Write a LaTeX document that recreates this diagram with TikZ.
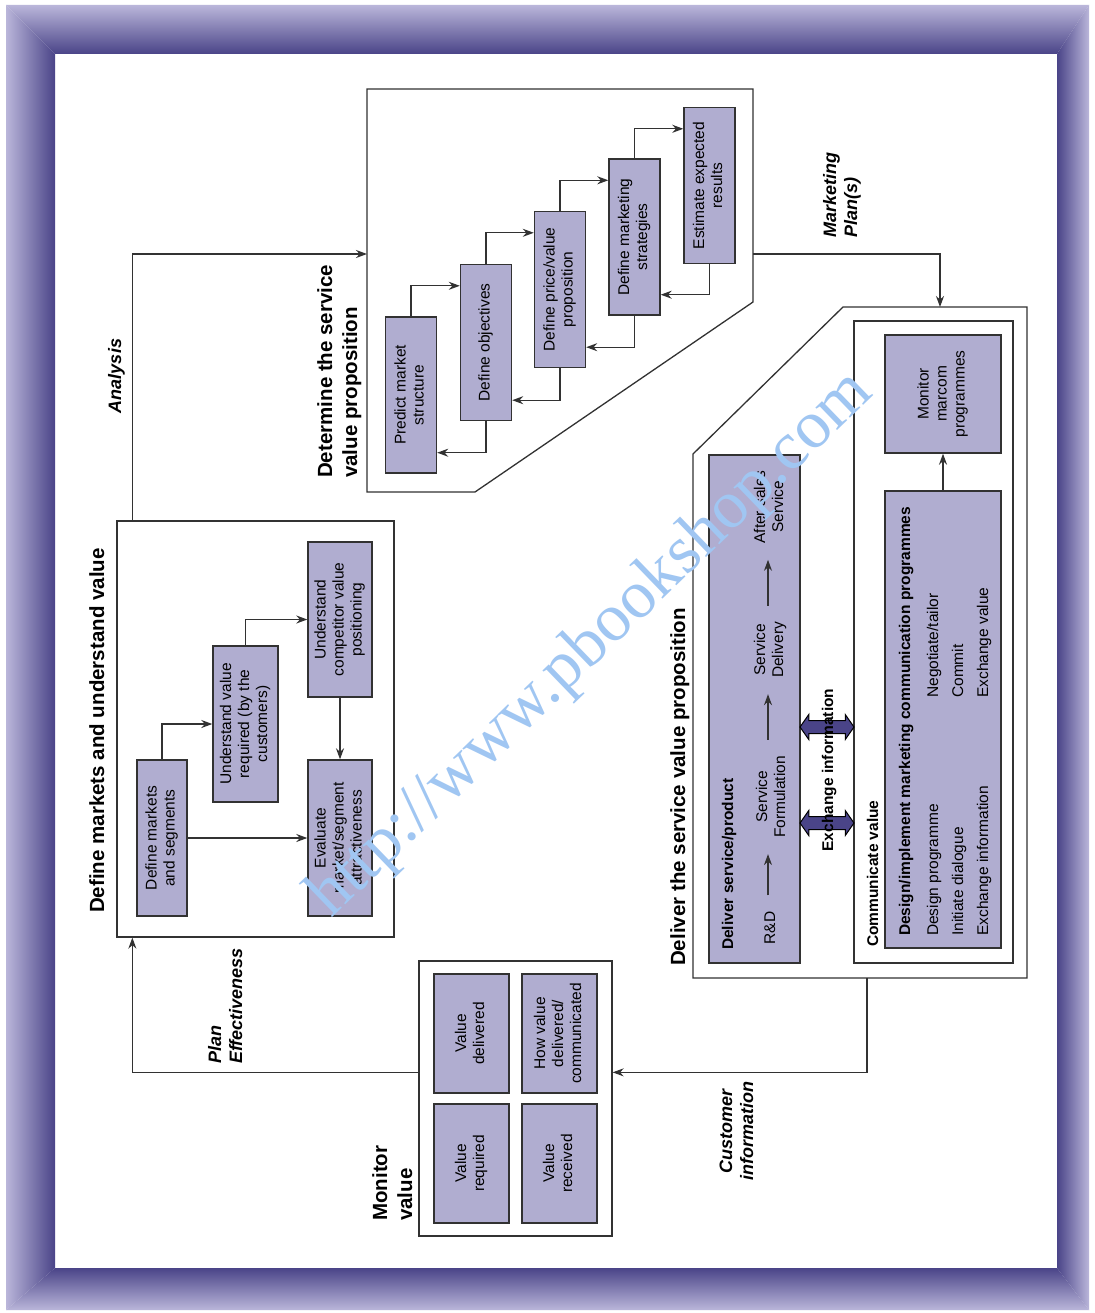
\documentclass[tikz,border=0pt]{standalone}
\usepackage{fontspec}
\setmainfont{Liberation Sans}
\newfontfamily\wmfont{Liberation Serif}
\usetikzlibrary{arrows.meta,shapes.arrows,calc}
\definecolor{boxfill}{RGB}{176,173,208}
\definecolor{framelight}{RGB}{186,182,218}
\definecolor{framedark}{RGB}{74,68,136}
\definecolor{linecol}{RGB}{50,50,50}
\definecolor{wmcol}{RGB}{160,198,242}
\newcommand{\rt}[1]{\rotatebox{90}{\begin{tabular}{@{}c@{}}#1\end{tabular}}}
\begin{document}
\begin{tikzpicture}[x=1pt,y=-1pt,
  font=\fontsize{15.5}{18}\selectfont,
  box/.style={draw=linecol, line width=1.4pt, fill=boxfill, inner sep=0pt},
  wbox/.style={draw=linecol, line width=1.3pt, fill=white, inner sep=0pt},
  outline/.style={draw=linecol, line width=1.3pt, fill=white},
  conn/.style={draw=linecol, line width=1.2pt},
  arr/.style={conn, -{Stealth[length=11pt,width=8pt]}},
  lab/.style={rotate=90, inner sep=0pt},
  ttl/.style={lab, font=\fontsize{20.5}{25}\selectfont\bfseries, align=left, anchor=base west},
  itl/.style={lab, font=\fontsize{18}{21}\selectfont\bfseries\itshape},
  bl/.style={lab, font=\fontsize{15.5}{18}\selectfont\bfseries, anchor=base west},
  xarr/.style={double arrow, draw=black, line width=1pt, fill=framedark, minimum height=54pt,
    inner xsep=0pt, inner ysep=6pt, double arrow head extend=6pt, double arrow tip angle=110},
  small/.style={shorten <=16pt, shorten >=16pt}
]
% background and bounding box
\fill[white] (0,0) rectangle (1094,1313);
\useasboundingbox (0,0) rectangle (1094,1313);
% frame
\shade[top color=framelight, bottom color=framedark] (6,5) -- (1089,5) -- (1057,54) -- (55,54) -- cycle;
\shade[top color=framedark, bottom color=framelight] (6,1310) -- (55,1268) -- (1057,1268) -- (1089,1310) -- cycle;
\shade[left color=framelight, right color=framedark] (6,5) -- (55,54) -- (55,1268) -- (6,1310) -- cycle;
\shade[left color=framedark, right color=framelight] (1089,5) -- (1057,54) -- (1057,1268) -- (1089,1310) -- cycle;

% ===== Determine the service value proposition =====
\draw[outline] (367,89) -- (753,89) -- (753,302) -- (475,492) -- (367,492) -- cycle;
\coordinate (dIn) at (367,254);
\coordinate (dOut) at (753,254);
\node[box, minimum width=51pt, minimum height=156pt] (p)  at (411,395)   {\rt{Predict market\\structure}};
\node[box, minimum width=51pt, minimum height=156pt] (o)  at (486,342.5) {\rt{Define objectives}};
\node[box, minimum width=51pt, minimum height=156pt] (pr) at (560,289.5) {\rt{Define price/value\\proposition}};
\node[box, minimum width=51pt, minimum height=156pt] (st) at (634.5,237) {\rt{Define marketing\\strategies}};
\node[box, minimum width=51pt, minimum height=156pt] (es) at (709.5,185.5) {\rt{Estimate expected\\results}};
\draw[arr] (p.north)  |- ($(o.north west)+(0,22)$);
\draw[arr] (o.north)  |- ($(pr.north west)+(0,22)$);
\draw[arr] (pr.north) |- ($(st.north west)+(0,22)$);
\draw[arr] (st.north) |- ($(es.north west)+(0,22)$);
\draw[arr] (o.south)  |- ($(p.south east)+(0,-21)$);
\draw[arr] (pr.south) |- ($(o.south east)+(0,-21)$);
\draw[arr] (st.south) |- ($(pr.south east)+(0,-21)$);
\draw[arr] (es.south) |- ($(st.south east)+(0,-21)$);
\node[ttl] (tD) at (357,478) {Determine the service\\value proposition};

% ===== Define markets and understand value =====
\node[wbox, minimum width=277pt, minimum height=416pt] (mk) at (255.5,729) {};
\node[box, minimum width=50pt, minimum height=156pt] (dm) at (162,838) {\rt{Define markets\\and segments}};
\node[box, minimum width=65pt, minimum height=156pt] (uv) at (245.5,724) {\rt{Understand value\\required (by the\\customers)}};
\node[box, minimum width=64pt, minimum height=155pt] (uc) at (340,619.5) {\rt{Understand\\competitor value\\positioning}};
\node[box, minimum width=64pt, minimum height=156pt] (ev) at (340,838) {\rt{Evaluate\\market/segment\\attractiveness}};
\draw[arr] (dm.north) |- (uv.west);
\draw[arr] (uv.north) |- (uc.west);
\draw[arr] (dm.east) -- (ev.west);
\draw[arr] (uc.south) -- (ev.north);
\node[ttl] (tM) at (104,913) {Define markets and understand value};

% ===== Monitor value =====
\node[wbox, minimum width=193pt, minimum height=275pt] (mb) at (515.5,1098.5) {};
\node[box, minimum width=75pt, minimum height=119pt] (vd) at (471.5,1033.5) {\rt{Value\\delivered}};
\node[box, minimum width=75pt, minimum height=119pt] (hv) at (559.5,1033.5) {\rt{How value\\delivered/\\communicated}};
\node[box, minimum width=75pt, minimum height=119pt] (vr) at (471.5,1163.5) {\rt{Value\\required}};
\node[box, minimum width=75pt, minimum height=119pt] (vc) at (559.5,1163.5) {\rt{Value\\received}};
\node[ttl] (tV) at (412,1221) {Monitor\\value};

% ===== Deliver the service value proposition =====
\draw[outline] (693,454) -- (843,307) -- (1027,307) -- (1027,978) -- (693,978) -- cycle;
\coordinate (dvTop) at (940,307);
\coordinate (dvBot) at (867,978);
\node[wbox, minimum width=159pt, minimum height=642pt] (cv) at (933.5,642) {};
\node[box, minimum width=116pt, minimum height=118pt] (mm) at (943,394) {\rt{Monitor\\marcom\\programmes}};
\node[box, minimum width=116pt, minimum height=457pt] (di) at (943,719.5) {};
\draw[arr] (di.north) -- (mm.south);
\node[box, minimum width=91pt, minimum height=508pt] (ds) at (754.5,709) {};
\node[bl] (dsh) at (733,950) {Deliver service/product};
\node[lab, anchor=base] (rd) at (775,928) {R\&D};
\node[lab, align=center, anchor=base] (sf) at (785,797) {Service\\Formulation};
\node[lab, align=center, anchor=base] (sd) at (783,650) {Service\\Delivery};
\node[lab, align=center, anchor=base] (as) at (783,507) {After sales\\Service};
\draw[arr, small] (768,0 |- rd.east) -- (768,0 |- sf.west);
\draw[arr, small] (768,0 |- sf.east) -- (768,0 |- sd.west);
\draw[arr, small] (768,0 |- sd.east) -- (768,0 |- as.west);
\node[xarr] (x1) at (827,727) {};
\node[xarr] (x2) at (827,823) {};
\node[bl, anchor=base] (xl) at (833,770) {Exchange information};
\node[bl] (cvl) at (878,947) {Communicate value};
\node[bl] (dih) at (910,936) {Design/implement marketing communication programmes};
\node[lab, align=left, anchor=base west, font=\fontsize{15.5}{25}\selectfont] (c1) at (988,936) {Design programme\\Initiate dialogue\\Exchange information};
\node[lab, align=left, anchor=base west, font=\fontsize{15.5}{25}\selectfont] (c2) at (988,698) {Negotiate/tailor\\Commit\\Exchange value};
\node[ttl] (tS) at (685,966) {Deliver the service value proposition};

% ===== Connectors between stages =====
\draw[arr] ($(mk.north west)+(16,0)$) |- (dIn);
\node[itl, anchor=base] (lA) at (121,376) {Analysis};
\draw[arr] (dOut) -| (dvTop);
\node[itl, align=left, anchor=base west] (lM) at (857,238) {Marketing\\Plan(s)};
\draw[arr] (dvBot) |- ($(mb.north east)+(0,112)$);
\node[itl, align=center, anchor=base] (lC) at (753,1131) {Customer\\information};
\draw[arr] ($(mb.north west)+(0,112)$) -| ($(mk.south west)+(16,0)$);
\node[itl, align=left, anchor=base west] (lP) at (242,1064) {Plan\\Effectiveness};

% watermark
\node[rotate=44, text=wmcol, font=\wmfont\fontsize{68}{68}\selectfont, inner sep=0pt] (wm) at (592,645) {http://www.pbookshop.com};
\end{tikzpicture}
\end{document}
